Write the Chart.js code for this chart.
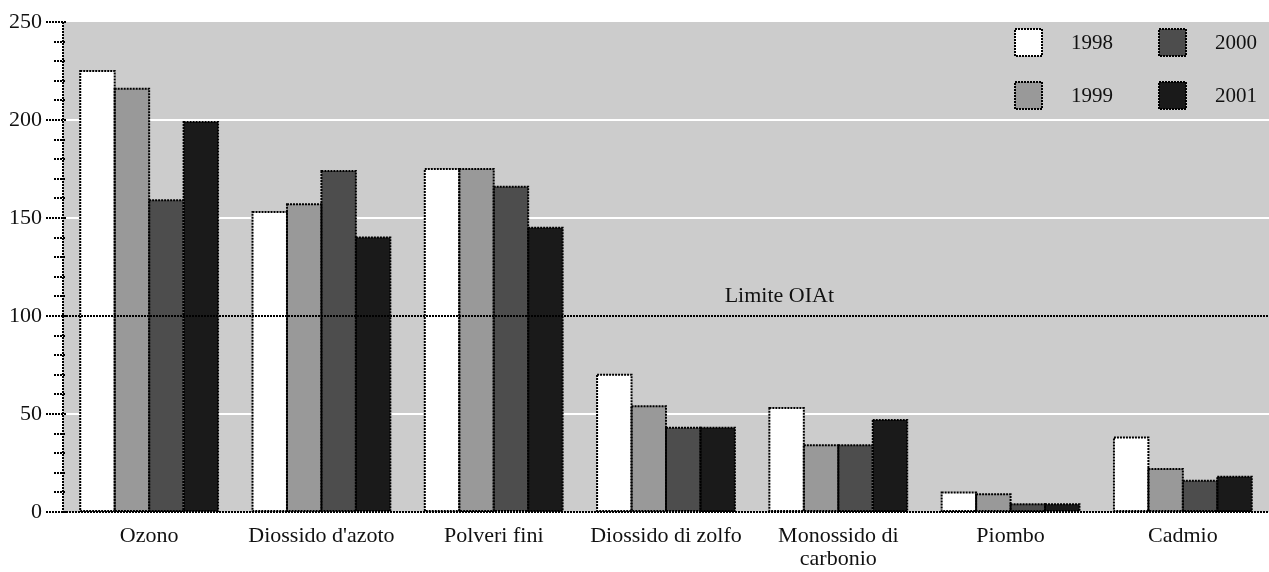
<!DOCTYPE html>
<html>
<head>
<meta charset="utf-8">
<script src="https://cdn.jsdelivr.net/npm/chart.js@4/dist/chart.umd.min.js"></script>
<style>
  html, body { margin: 0; padding: 0; background: #fff; overflow: hidden; }
  #wrap { width: 1269px; height: 572px; }
</style>
</head>
<body>
<div id="wrap"><canvas id="myChart"></canvas></div>
<script>
const categories = ['Ozono', "Diossido d'azoto", 'Polveri fini', 'Diossido di zolfo', ['Monossido di', 'carbonio'], 'Piombo', 'Cadmio'];
const years = ['1998', '1999', '2000', '2001'];
const v1998 = [225, 153, 175, 70, 53, 10, 38];
const v1999 = [216, 157, 175, 54, 34, 9, 22];
const v2000 = [159, 174, 166, 43, 34, 4, 16];
const v2001 = [199, 140, 145, 43, 47, 4, 18];
const limitValue = 100;
const limitLabel = 'Limite OIAt';

const colors = ['#ffffff', '#999999', '#4d4d4d', '#1a1a1a'];
const font = 'Liberation Serif';

const data = {
    labels: categories,
    datasets: [v1998, v1999, v2000, v2001].map((vals, i) => ({
        label: years[i],
        data: vals,
        backgroundColor: colors[i],
        borderWidth: 0,
        categoryPercentage: 0.8,
        barPercentage: 1.0
    }))
}

function dotted(ctx) {
    ctx.strokeStyle = '#000';
    ctx.lineWidth = 2;
    ctx.setLineDash([2, 1]);
}

const plotDecor = {
    id: 'plotDecor',
    beforeDraw(chart) {
        const { ctx, chartArea: a } = chart;
        ctx.save();
        ctx.fillStyle = '#cccccc';
        ctx.fillRect(a.left, a.top, a.right - a.left, a.bottom - a.top);
        ctx.restore();
    },
    afterDatasetsDraw(chart) {
        const { ctx, chartArea: a, scales } = chart;
        const y = scales.y;
        ctx.save();
        dotted(ctx);
        // bar outlines
        chart.data.datasets.forEach((ds, i) => {
            chart.getDatasetMeta(i).data.forEach(bar => {
                const w = bar.width;
                ctx.strokeRect(bar.x - w / 2, bar.y, w, bar.base - bar.y);
            });
        });
        // limit line
        const yl = Math.round(y.getPixelForValue(limitValue));
        ctx.beginPath();
        ctx.moveTo(a.left, yl);
        ctx.lineTo(a.right, yl);
        ctx.stroke();
        // axes
        ctx.beginPath();
        ctx.moveTo(a.left, a.top);
        ctx.lineTo(a.left, a.bottom);
        ctx.moveTo(a.left, a.bottom);
        ctx.lineTo(a.right, a.bottom);
        ctx.stroke();
        // ticks, major every 50, minor every 10
        ctx.beginPath();
        for (let v = y.min; v <= y.max; v += 10) {
            const py = Math.round(y.getPixelForValue(v));
            const len = v % 50 === 0 ? 17 : 9;
            ctx.moveTo(a.left - len, py);
            ctx.lineTo(a.left + 3, py);
        }
        ctx.stroke();
        ctx.setLineDash([]);
        ctx.fillStyle = '#111';
        ctx.font = '22px "' + font + '"';
        ctx.textAlign = 'center';
        ctx.textBaseline = 'middle';
        ctx.fillText(limitLabel, a.left + (a.right - a.left) * 0.594, yl - 20);
        ctx.restore();
    },
    afterDraw(chart) {
        // 2 x 2 legend, top right
        const { ctx, chartArea: a } = chart;
        ctx.save();
        ctx.font = '21px "' + font + '"';
        ctx.textBaseline = 'middle';
        ctx.textAlign = 'left';
        chart.data.datasets.forEach((ds, i) => {
            const col = Math.floor(i / 2), row = i % 2;
            const bx = a.right - 254 + col * 144;
            const by = a.top + 7 + row * 53;
            ctx.fillStyle = ds.backgroundColor;
            ctx.fillRect(bx, by, 27, 27);
            dotted(ctx);
            ctx.strokeRect(bx, by, 27, 27);
            ctx.setLineDash([]);
            ctx.fillStyle = '#111';
            ctx.fillText(ds.label, bx + 56, by + 14);
        });
        ctx.restore();
    }
}

const options = {
    responsive: true,
    maintainAspectRatio: false,
    animation: false,
    layout: { padding: { top: 22, right: 0, left: 0, bottom: 0 } },
    plugins: {
        legend: { display: false },
        tooltip: { enabled: false }
    },
    scales: {
        x: {
            grid: { display: false, drawTicks: false },
            border: { display: false },
            ticks: {
                color: '#111',
                padding: 13,
                maxRotation: 0,
                autoSkip: false,
                font: { family: font, size: 22, lineHeight: 1.05 }
            },
            afterFit(s) { s.height = 60; }
        },
        y: {
            min: 0,
            max: 250,
            grid: {
                drawTicks: true,
                tickLength: 21,
                tickColor: 'rgba(0,0,0,0)',
                lineWidth: 2,
                color: c => (c.tick && [50, 150, 200].includes(c.tick.value)) ? '#ffffff' : 'rgba(0,0,0,0)'
            },
            border: { display: false },
            ticks: {
                stepSize: 50,
                color: '#111',
                padding: 0,
                font: { family: font, size: 22 }
            },
            afterFit(s) { s.width = 63; }
        }
    }
}

const barChart = new Chart(document.getElementById('myChart'), {
    type: 'bar',
    data: data,
    options: options,
    plugins: [plotDecor]
});
</script>
</body>
</html>
